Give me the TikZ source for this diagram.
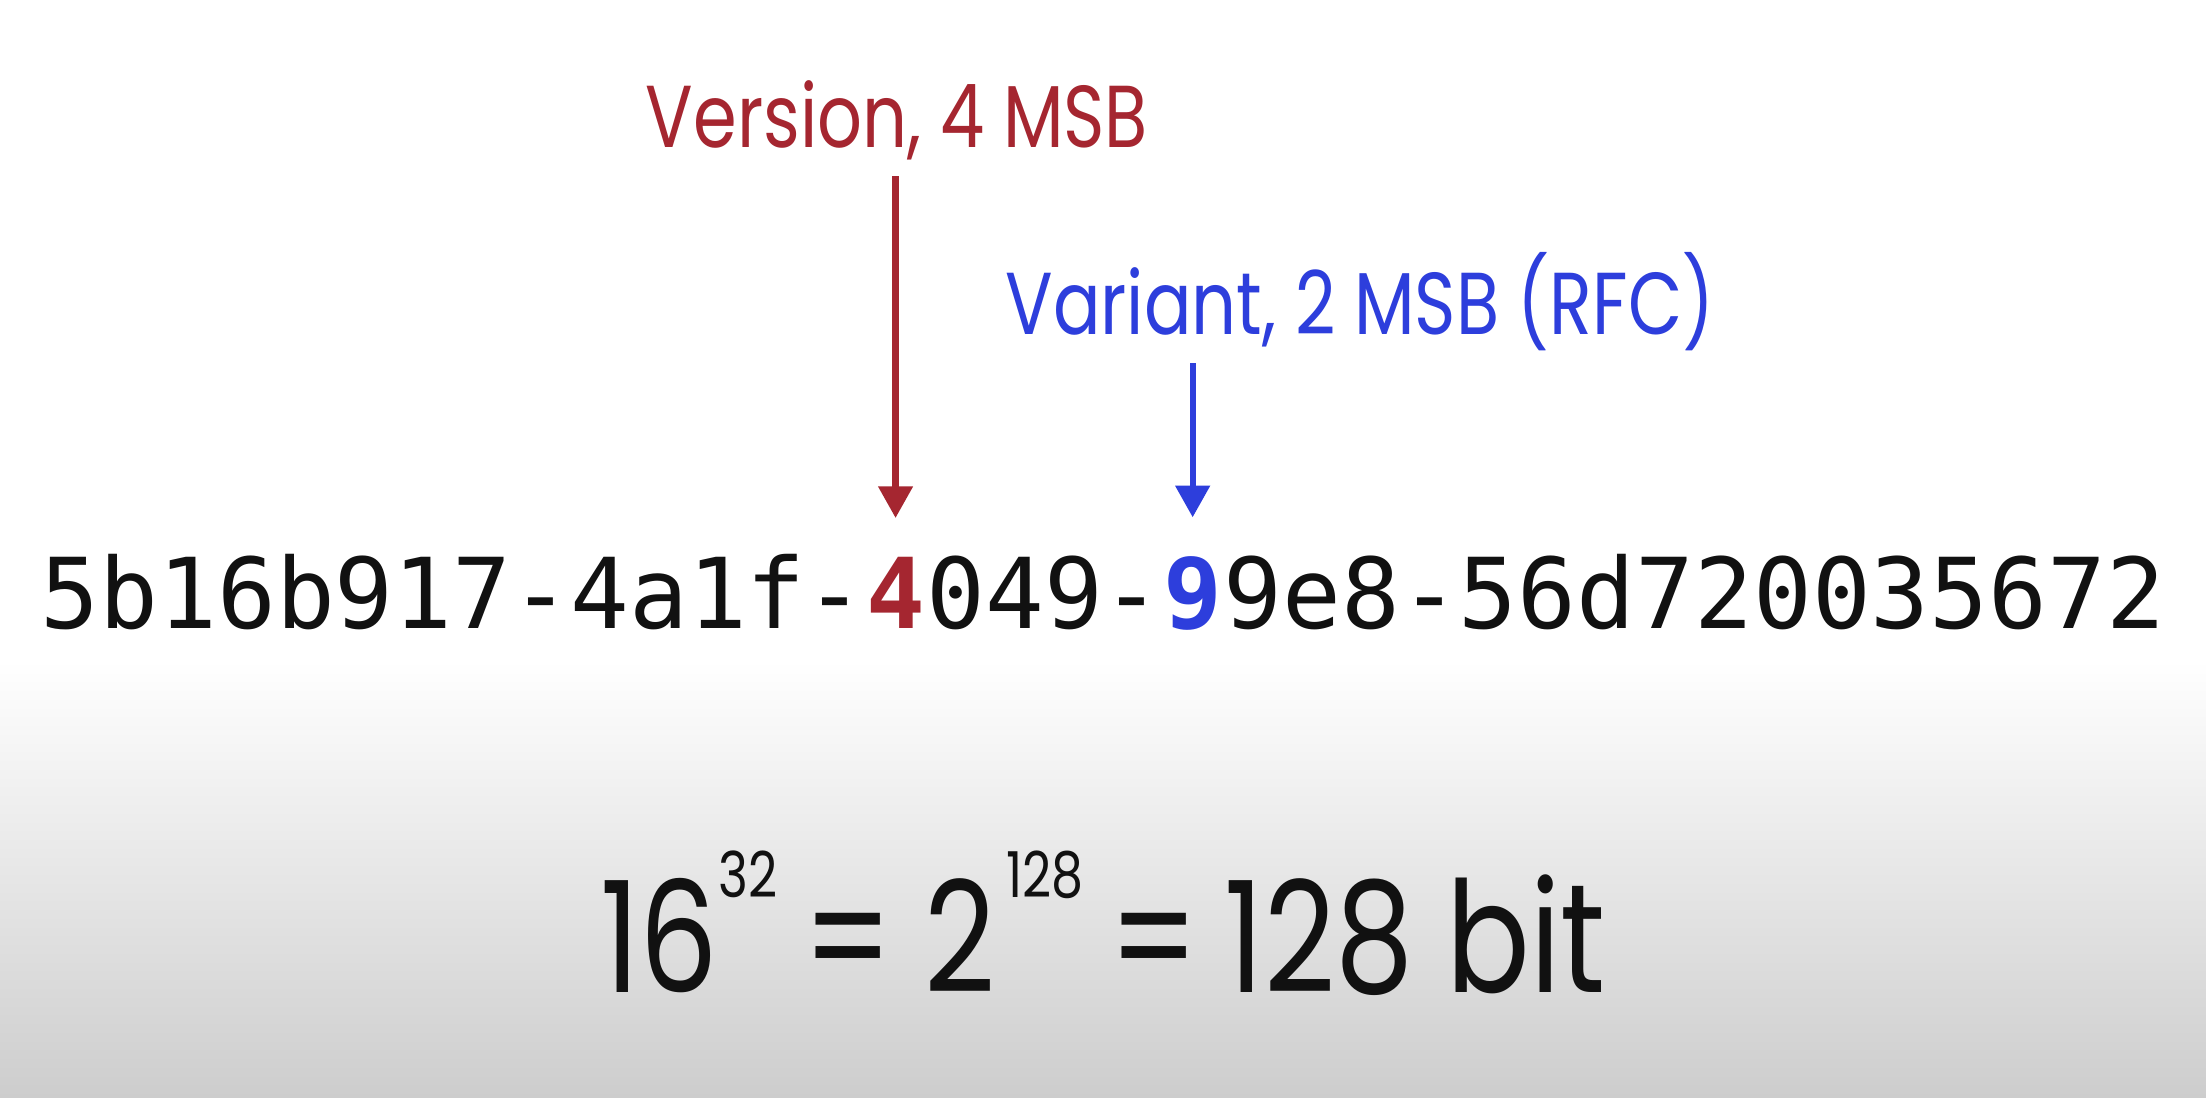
\documentclass[tikz,border=0pt]{standalone}
\usepackage{fontspec}
\usepackage{xcolor}
\usetikzlibrary{arrows.meta, positioning, calc}

\newfontfamily\labelfont[FakeStretch=0.8]{Poppins}
\newfontfamily\uuidfont{DejaVu Sans Mono}
\definecolor{verred}{RGB}{165,38,48}
\definecolor{varblue}{RGB}{45,62,220}
\definecolor{ink}{RGB}{17,17,17}
\definecolor{bggray}{RGB}{205,205,205}
\newcommand{\hiexp}[1]{\raisebox{27pt}{\fontsize{18}{18}\selectfont #1}}

\begin{document}
\begin{tikzpicture}[
    x=0.01cm, y=-0.01cm,
    caption/.style={font=\labelfont\fontsize{25}{25}\selectfont, inner sep=0pt, anchor=base},
    hex/.style={font=\uuidfont\fontsize{27.8}{28}\selectfont, text=ink, inner sep=0pt, anchor=base west},
    hexmark/.style={hex, font=\uuidfont\bfseries\fontsize{27.8}{28}\selectfont},
    pointer/.style={-{Triangle[length=9pt, width=9.5pt]}, line width=1.8pt}
]

% Background
\fill[white] (0,0) rectangle (2206,660);
\shade[top color=white, bottom color=bggray] (0,660) rectangle (2206,1098);
\useasboundingbox (0,0) rectangle (2206,1098);

% UUID string
\node[hex] (hexa) at (40, 629) {5b16b917-4a1f-};
\node[hexmark, text=verred] (ver) at (hexa.base east) {4};
\node[hex] (hexb) at (ver.base east) {049-};
\node[hexmark, text=varblue] (var) at (hexb.base east) {9};
\node[hex] (hexc) at (var.base east) {9e8-56d720035672};

% Field labels
\node[caption, text=verred] (verlabel) at (897, 148) {Version, 4 MSB};
\node[caption, text=varblue] (varlabel) at (1360, 335) {Variant, 2 MSB (RFC)};

% Pointers
\draw[pointer, verred] ([yshift=-2.8mm]verlabel.base -| ver.north) -- ([yshift=3.9mm]ver.north);
\draw[pointer, varblue] ([yshift=-2.8mm]varlabel.base -| var.north) -- ([yshift=3.9mm]var.north);

% Size
\node[caption, font=\labelfont\fontsize{44}{44}\selectfont, text=ink] (size) at (1103, 992)
    {16\hiexp{32}\,=\kern9pt 2\kern3pt\hiexp{128}\,=\,128 bit};

\end{tikzpicture}
\end{document}
